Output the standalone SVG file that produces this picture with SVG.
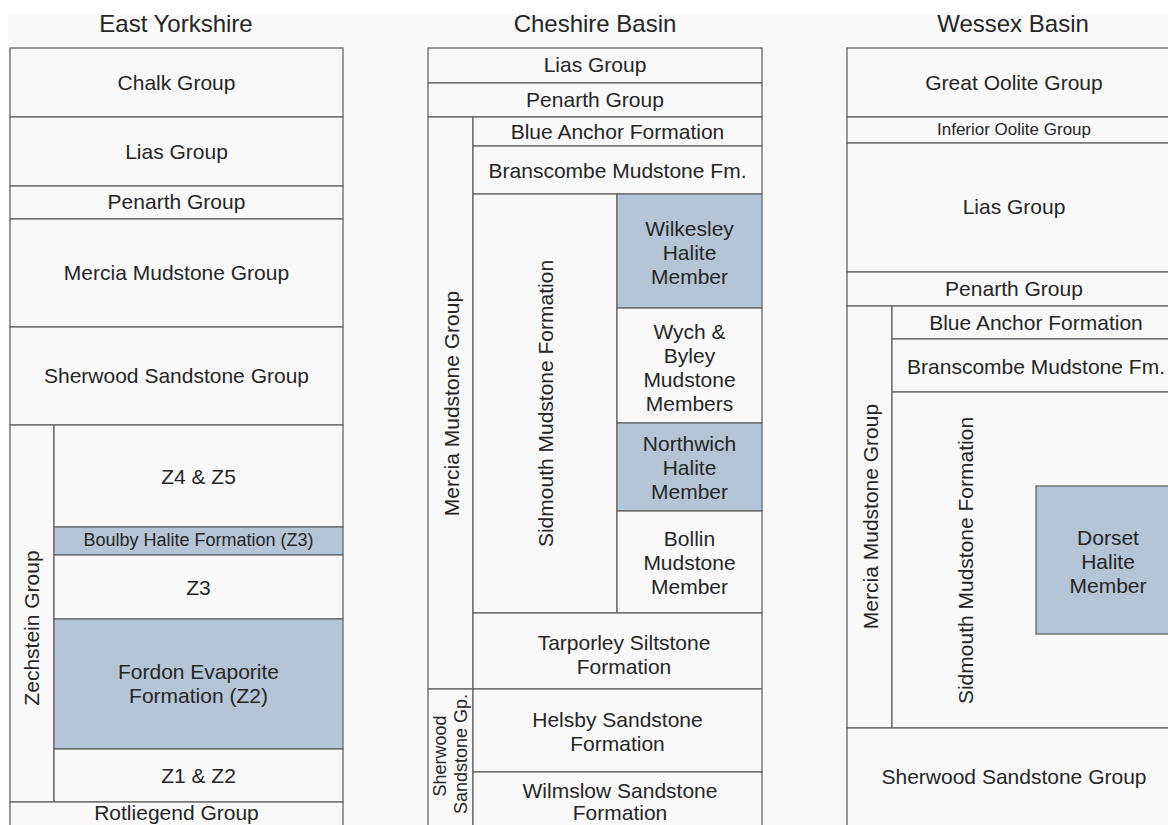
<svg xmlns="http://www.w3.org/2000/svg" width="1168" height="825" viewBox="0 0 1168 825">
<style>
.c{fill:#f9f9f9;stroke:#666;stroke-width:1.3}
.h{fill:#b3c5d7;stroke:#666;stroke-width:1.3}
text{font-family:"Liberation Sans",Arial,sans-serif;fill:#262626;text-anchor:middle;dominant-baseline:central}
.t{font-size:24px}
.m{font-size:21px}
.s{font-size:18px}
.xs{font-size:17px}
</style>
<rect x="0" y="0" width="1168" height="825" fill="#ffffff"/>
<rect x="8" y="14" width="1160" height="811" fill="#f9f9f9"/>

<g id="titles">
<text class="t" x="176" y="23">East Yorkshire</text>
<text class="t" x="595" y="23">Cheshire Basin</text>
<text class="t" x="1013" y="23">Wessex Basin</text>
</g>

<!-- East Yorkshire -->
<g id="ey-chalk"><rect class="c" x="10" y="48" width="333" height="69"/><text class="m" x="176.5" y="82">Chalk Group</text></g>
<g id="ey-lias"><rect class="c" x="10" y="117" width="333" height="69"/><text class="m" x="176.5" y="151">Lias Group</text></g>
<g id="ey-penarth"><rect class="c" x="10" y="186" width="333" height="33"/><text class="m" x="176.5" y="201">Penarth Group</text></g>
<g id="ey-mercia"><rect class="c" x="10" y="219" width="333" height="108"/><text class="m" x="176.5" y="272">Mercia Mudstone Group</text></g>
<g id="ey-sherwood"><rect class="c" x="10" y="327" width="333" height="98"/><text class="m" x="176.5" y="375">Sherwood Sandstone Group</text></g>
<g id="ey-zechstein"><rect class="c" x="10" y="425" width="44" height="377"/><text class="m" transform="translate(31,628) rotate(-90)" x="0" y="0">Zechstein Group</text></g>
<g id="ey-z45"><rect class="c" x="54" y="425" width="289" height="102"/><text class="m" x="198.5" y="476">Z4 &amp; Z5</text></g>
<g id="ey-boulby"><rect class="h" x="54" y="527" width="289" height="28"/><text class="s" x="198.5" y="540">Boulby Halite Formation (Z3)</text></g>
<g id="ey-z3"><rect class="c" x="54" y="555" width="289" height="64"/><text class="m" x="198.5" y="587">Z3</text></g>
<g id="ey-fordon"><rect class="h" x="54" y="619" width="289" height="130"/><text class="m" x="198.5" y="671">Fordon Evaporite</text><text class="m" x="198.5" y="695">Formation (Z2)</text></g>
<g id="ey-z12"><rect class="c" x="54" y="749" width="289" height="53"/><text class="m" x="198.5" y="775">Z1 &amp; Z2</text></g>
<g id="ey-rotliegend"><rect class="c" x="10" y="802" width="333" height="40"/><text class="m" x="176.5" y="812">Rotliegend Group</text></g>

<!-- Cheshire Basin -->
<g id="cb-lias"><rect class="c" x="428" y="48" width="334" height="35"/><text class="m" x="595" y="64">Lias Group</text></g>
<g id="cb-penarth"><rect class="c" x="428" y="83" width="334" height="34"/><text class="m" x="595" y="99">Penarth Group</text></g>
<g id="cb-mercia"><rect class="c" x="428" y="117" width="45" height="572"/><text class="m" transform="translate(451,403.5) rotate(-90)" x="0" y="0">Mercia Mudstone Group</text></g>
<g id="cb-blueanchor"><rect class="c" x="473" y="117" width="289" height="29"/><text class="m" x="617.5" y="131">Blue Anchor Formation</text></g>
<g id="cb-branscombe"><rect class="c" x="473" y="146" width="289" height="48"/><text class="m" x="617.5" y="170">Branscombe Mudstone Fm.</text></g>
<g id="cb-sidmouth"><rect class="c" x="473" y="194" width="144" height="419"/><text class="m" transform="translate(545,403.5) rotate(-90)" x="0" y="0">Sidmouth Mudstone Formation</text></g>
<g id="cb-wilkesley"><rect class="h" x="617" y="194" width="145" height="114"/><text class="m" x="689.5" y="228">Wilkesley</text><text class="m" x="689.5" y="252">Halite</text><text class="m" x="689.5" y="276">Member</text></g>
<g id="cb-wych"><rect class="c" x="617" y="308" width="145" height="115"/><text class="m" x="689.5" y="331">Wych &amp;</text><text class="m" x="689.5" y="355">Byley</text><text class="m" x="689.5" y="379">Mudstone</text><text class="m" x="689.5" y="403">Members</text></g>
<g id="cb-northwich"><rect class="h" x="617" y="423" width="145" height="88"/><text class="m" x="689.5" y="443">Northwich</text><text class="m" x="689.5" y="467">Halite</text><text class="m" x="689.5" y="491">Member</text></g>
<g id="cb-bollin"><rect class="c" x="617" y="511" width="145" height="102"/><text class="m" x="689.5" y="538">Bollin</text><text class="m" x="689.5" y="562">Mudstone</text><text class="m" x="689.5" y="586">Member</text></g>
<g id="cb-tarporley"><rect class="c" x="473" y="613" width="289" height="76"/><text class="m" x="624" y="642">Tarporley Siltstone</text><text class="m" x="624" y="666">Formation</text></g>
<g id="cb-sherwood"><rect class="c" x="428" y="689" width="45" height="160"/><text class="s" transform="translate(440,756) rotate(-90)" x="0" y="0">Sherwood</text><text class="s" transform="translate(461,754) rotate(-90)" x="0" y="0">Sandstone Gp.</text></g>
<g id="cb-helsby"><rect class="c" x="473" y="689" width="289" height="83"/><text class="m" x="617.5" y="719">Helsby Sandstone</text><text class="m" x="617.5" y="743">Formation</text></g>
<g id="cb-wilmslow"><rect class="c" x="473" y="772" width="289" height="80"/><text class="m" x="620" y="790">Wilmslow Sandstone</text><text class="m" x="620" y="812">Formation</text></g>

<!-- Wessex Basin -->
<g id="wb-greatoolite"><rect class="c" x="847" y="48" width="334" height="69"/><text class="m" x="1014" y="82">Great Oolite Group</text></g>
<g id="wb-inferioroolite"><rect class="c" x="847" y="117" width="334" height="26"/><text class="xs" x="1014" y="129">Inferior Oolite Group</text></g>
<g id="wb-lias"><rect class="c" x="847" y="143" width="334" height="129"/><text class="m" x="1014" y="206">Lias Group</text></g>
<g id="wb-penarth"><rect class="c" x="847" y="272" width="334" height="34"/><text class="m" x="1014" y="288">Penarth Group</text></g>
<g id="wb-mercia"><rect class="c" x="847" y="306" width="45" height="422"/><text class="m" transform="translate(870,516.5) rotate(-90)" x="0" y="0">Mercia Mudstone Group</text></g>
<g id="wb-blueanchor"><rect class="c" x="892" y="306" width="289" height="33"/><text class="m" x="1036" y="322">Blue Anchor Formation</text></g>
<g id="wb-branscombe"><rect class="c" x="892" y="339" width="289" height="53"/><text class="m" x="1036" y="366">Branscombe Mudstone Fm.</text></g>
<g id="wb-sidmouth"><rect class="c" x="892" y="392" width="289" height="336"/><text class="m" transform="translate(965,560.5) rotate(-90)" x="0" y="0">Sidmouth Mudstone Formation</text></g>
<g id="wb-dorset"><rect class="h" x="1036" y="486" width="145" height="148"/><text class="m" x="1108" y="537">Dorset</text><text class="m" x="1108" y="561">Halite</text><text class="m" x="1108" y="585">Member</text></g>
<g id="wb-sherwood"><rect class="c" x="847" y="728" width="334" height="120"/><text class="m" x="1014" y="776">Sherwood Sandstone Group</text></g>

<g id="connectors"></g>
</svg>
